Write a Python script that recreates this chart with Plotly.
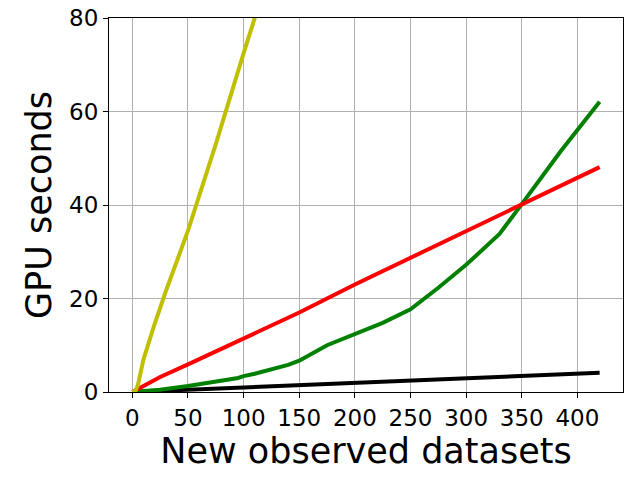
import plotly.graph_objects as go

# GPU seconds vs number of new observed datasets
yellow_x = [0, 3, 5, 7, 10, 20, 30, 50, 75, 100, 110.5, 120]
yellow_y = [0, 0.3, 1.5, 4.0, 7.0, 14.5, 21.5, 34.5, 53.0, 72.5, 80.0, 87.5]

red_x = [0, 25, 50, 100, 150, 200, 250, 300, 350, 420]
red_y = [0, 3.2, 5.9, 11.5, 17.0, 23.0, 28.7, 34.4, 39.9, 48.1]

green_x = [0, 25, 50, 75, 95, 100, 110, 140, 150, 175, 200, 225, 250, 275, 300, 330, 350, 385, 420]
green_y = [0, 0.5, 1.3, 2.2, 3.0, 3.4, 3.9, 5.8, 6.7, 10.0, 12.4, 14.8, 17.7, 22.3, 27.2, 33.8, 40.2, 51.5, 62.1]

black_x = [0, 100, 150, 200, 300, 330, 420]
black_y = [0, 1.0, 1.5, 2.0, 3.0, 3.3, 4.1]

x_ticks = [0, 50, 100, 150, 200, 250, 300, 350, 400]
y_ticks = [0, 20, 40, 60, 80]

fig = go.Figure()
for xs, ys, col in [(black_x, black_y, "#000000"),
                    (green_x, green_y, "#008000"),
                    (red_x, red_y, "#ff0000"),
                    (yellow_x, yellow_y, "#bfbf00")]:
    fig.add_trace(go.Scatter(x=xs, y=ys, mode="lines",
                             line=dict(color=col, width=4),
                             showlegend=False, hoverinfo="skip"))

axis_style = dict(
    showline=True, linecolor="black", linewidth=1.1, mirror=True,
    showgrid=True, gridcolor="#b0b0b0", gridwidth=1.1, zeroline=False,
    ticks="outside", ticklen=5, tickwidth=1.1, tickcolor="black",
    tickfont=dict(size=23, color="black"), automargin=False,
)

fig.update_xaxes(range=[-21, 441], tickvals=x_ticks,
                 title=dict(text="New observed datasets", font=dict(size=35, color="black"), standoff=4),
                 **axis_style)
fig.update_yaxes(range=[0, 80], tickvals=y_ticks,
                 title=dict(text="GPU seconds", font=dict(size=35, color="black"), standoff=6),
                 **axis_style)

fig.update_layout(
    width=640, height=480,
    margin=dict(l=109, r=17, t=18, b=88),
    paper_bgcolor="white", plot_bgcolor="white",
    font=dict(family="DejaVu Sans", color="black"),
)

# drop the default page margin so the figure sits at the window corner
fig.write_html("out.html", config={"displayModeBar": False},
               post_script="document.body.style.margin='0';")
